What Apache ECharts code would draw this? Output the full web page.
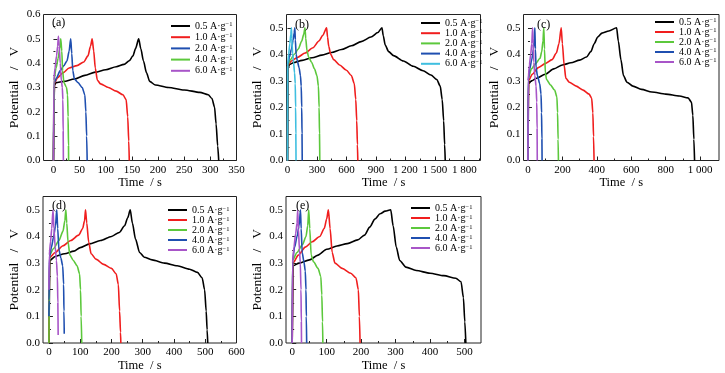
<!DOCTYPE html>
<html><head><meta charset="utf-8">
<script src="https://cdn.jsdelivr.net/npm/echarts@6/dist/echarts.min.js"></script>
<style>html,body{margin:0;padding:0;background:#fff}#c{width:725px;height:373px}</style>
</head><body><div id="c"></div>
<script>
// ---------- DATA ----------
const rates = ['0.5','1.0','2.0','4.0','6.0'];
// panel (a)
const a05 = [[0,0],[2,0.31],[5,0.32],[20,0.325],[40,0.335],[60,0.35],[80,0.363],[100,0.373],[120,0.385],[135,0.395],[145,0.41],[152,0.43],[157,0.46],[163,0.5],[167,0.46],[172,0.41],[178,0.36],[184,0.325],[195,0.31],[220,0.3],[250,0.29],[280,0.28],[296,0.27],[303,0.255],[308,0.22],[311,0.15],[314,0.06],[316,0]];
const a10 = [[0,0],[2,0.32],[8,0.34],[18,0.36],[30,0.38],[45,0.39],[58,0.405],[66,0.43],[71,0.47],[74,0.5],[77,0.45],[80,0.38],[84,0.33],[90,0.315],[105,0.3],[120,0.285],[133,0.27],[139,0.25],[142,0.18],[144,0.08],[145,0]];
const a20 = [[0,0],[1.5,0.32],[6,0.34],[13,0.37],[20,0.39],[26,0.41],[30,0.45],[33,0.5],[35,0.44],[37,0.37],[40,0.335],[47,0.32],[55,0.3],[60,0.27],[62,0.2],[63.5,0.1],[64.5,0]];
const a40 = [[0,0],[1,0.33],[5,0.38],[9,0.42],[12,0.46],[14,0.5],[16,0.45],[17.5,0.37],[20,0.32],[25,0.3],[27,0.27],[28,0.18],[28.8,0.06],[29,0]];
const a60 = [[0,0],[0.8,0.33],[3,0.38],[6,0.43],[8,0.47],[9.5,0.51],[11,0.47],[13,0.4],[15,0.33],[17,0.3],[18,0.25],[18.6,0.12],[19,0]];
// panel (b)
const b05 = [[0,0],[8,0.35],[20,0.362],[60,0.368],[150,0.377],[250,0.387],[350,0.397],[450,0.407],[550,0.418],[650,0.432],[750,0.448],[850,0.465],[920,0.482],[962,0.5],[975,0.47],[995,0.435],[1030,0.41],[1080,0.395],[1180,0.375],[1280,0.355],[1380,0.338],[1460,0.322],[1520,0.305],[1555,0.28],[1575,0.23],[1590,0.15],[1600,0.06],[1606,0]];
const b10 = [[0,0],[4,0.36],[40,0.375],[100,0.388],[180,0.405],[260,0.425],[320,0.45],[360,0.472],[398,0.5],[408,0.465],[420,0.43],[440,0.4],[470,0.38],[530,0.36],[600,0.34],[650,0.32],[680,0.29],[695,0.23],[705,0.15],[712,0.06],[716,0]];
const b20 = [[0,0],[3,0.36],[30,0.38],[70,0.4],[110,0.42],[145,0.45],[165,0.475],[178,0.5],[186,0.46],[198,0.415],[215,0.39],[245,0.37],[275,0.345],[300,0.32],[315,0.28],[322,0.2],[326,0.1],[329,0]];
const b40 = [[0,0],[2,0.36],[20,0.39],[40,0.42],[58,0.455],[68,0.48],[75,0.5],[80,0.455],[88,0.4],[100,0.375],[118,0.35],[132,0.32],[140,0.28],[145,0.2],[148,0.1],[150,0]];
const b60 = [[0,0],[1,0.36],[12,0.4],[24,0.44],[34,0.475],[40,0.5],[44,0.46],[52,0.405],[62,0.37],[72,0.33],[79,0.29],[83,0.2],[85,0.1],[87,0]];
// panel (c)
const c05 = [[0,0],[4,0.29],[20,0.3],[50,0.31],[100,0.325],[150,0.345],[200,0.36],[250,0.368],[300,0.378],[340,0.39],[365,0.41],[385,0.44],[405,0.465],[430,0.48],[470,0.488],[515,0.5],[525,0.45],[540,0.38],[555,0.32],[575,0.295],[610,0.28],[660,0.268],[720,0.258],[800,0.25],[880,0.243],[930,0.236],[950,0.22],[958,0.17],[964,0.08],[968,0]];
const c10 = [[0,0],[3,0.3],[25,0.325],[60,0.35],[100,0.365],[140,0.38],[165,0.405],[180,0.44],[193,0.5],[200,0.44],[210,0.36],[220,0.31],[240,0.295],[280,0.28],[320,0.265],[355,0.25],[370,0.235],[377,0.18],[381,0.09],[384,0]];
const c20 = [[0,0],[2,0.31],[20,0.345],[45,0.365],[70,0.385],[80,0.41],[87,0.45],[92,0.5],[96,0.42],[101,0.33],[108,0.305],[130,0.285],[155,0.265],[168,0.24],[172,0.18],[175,0.08],[177,0]];
const c40 = [[0,0],[1,0.3],[10,0.345],[22,0.38],[32,0.42],[37,0.46],[40,0.5],[43,0.42],[47,0.35],[55,0.32],[68,0.29],[76,0.25],[79,0.18],[81,0.08],[82,0]];
const c60 = [[0,0],[1,0.3],[8,0.36],[16,0.4],[22,0.44],[27,0.5],[30,0.44],[34,0.37],[40,0.32],[47,0.28],[51,0.22],[53,0.12],[54,0]];
// panel (d)
const d05 = [[0,0],[3,0.31],[20,0.325],[50,0.335],[80,0.345],[100,0.358],[130,0.372],[165,0.385],[200,0.4],[225,0.415],[242,0.44],[252,0.47],[260,0.5],[267,0.45],[277,0.39],[290,0.34],[305,0.322],[330,0.312],[370,0.3],[410,0.29],[450,0.277],[475,0.265],[490,0.245],[498,0.2],[503,0.12],[506,0.05],[508,0]];
const d10 = [[0,0],[2,0.32],[20,0.34],[45,0.365],[70,0.385],[95,0.405],[108,0.43],[114,0.46],[117,0.5],[121,0.45],[127,0.38],[135,0.335],[150,0.315],[175,0.295],[200,0.28],[215,0.26],[222,0.22],[226,0.12],[229,0.04],[230,0]];
const d20 = [[0,0],[2,0.33],[15,0.355],[32,0.385],[45,0.42],[51,0.46],[54,0.5],[57,0.45],[61,0.38],[67,0.33],[78,0.31],[90,0.29],[98,0.26],[101,0.2],[103,0.1],[105,0]];
const d40 = [[0,0.1],[0.5,0.16],[1.5,0.32],[8,0.36],[15,0.4],[21,0.44],[25,0.5],[28,0.43],[32,0.35],[38,0.32],[44,0.29],[47,0.22],[48,0.12],[49,0.035]];
const d60 = [[0,0.2],[1,0.33],[5,0.38],[9,0.43],[13,0.5],[16,0.43],[20,0.36],[24,0.31],[27,0.25],[28.5,0.15],[29.5,0.03]];
// panel (e)
const e05 = [[0,0],[3,0.29],[20,0.3],[50,0.312],[75,0.33],[100,0.352],[130,0.364],[160,0.373],[190,0.387],[210,0.405],[225,0.435],[240,0.465],[255,0.485],[270,0.495],[286,0.5],[293,0.44],[302,0.36],[312,0.31],[330,0.285],[360,0.272],[400,0.262],[440,0.253],[475,0.243],[490,0.23],[497,0.17],[501,0.08],[504,0]];
const e10 = [[0,0],[2,0.3],[18,0.33],[38,0.36],[58,0.38],[80,0.4],[93,0.43],[100,0.465],[105,0.5],[110,0.43],[116,0.34],[124,0.3],[145,0.28],[170,0.262],[185,0.245],[192,0.2],[195,0.1],[197,0]];
const e20 = [[0,0],[1,0.31],[14,0.34],[30,0.37],[40,0.4],[45,0.44],[48,0.5],[51,0.43],[55,0.33],[62,0.305],[75,0.28],[83,0.25],[86,0.18],[88,0.08],[89,0]];
const e40 = [[0,0],[1,0.31],[7,0.36],[14,0.4],[20,0.44],[24,0.5],[26,0.43],[29,0.34],[34,0.305],[38,0.27],[40,0.2],[41,0.1],[42,0]];
const e60 = [[0,0],[1,0.3],[5,0.36],[10,0.41],[14,0.45],[16,0.5],[18,0.43],[21,0.35],[23.5,0.3],[25.5,0.2],[26.5,0.08],[27,0]];

// tick values
const xTicksA = [0,50,100,150,200,250,300,350];
const xMinorA = [25,75,125,175,225,275,325];
const xTicksB = [0,300,600,900,1200,1500,1800];
const xMinorB = [150,450,750,1050,1350,1650,1950];
const xTicksC = [0,200,400,600,800,1000];
const xMinorC = [100,300,500,700,900];
const xTicksD = [0,100,200,300,400,500,600];
const xMinorD = [50,150,250,350,450,550];
const xTicksE = [0,100,200,300,400,500];
const xMinorE = [50,150,250,350,450];
const yTicks6 = [0,0.1,0.2,0.3,0.4,0.5,0.6];
const yTicks5 = [0,0.1,0.2,0.3,0.4,0.5];
const yMinor6 = [0.05,0.15,0.25,0.35,0.45,0.55];
const yMinor5 = [0.05,0.15,0.25,0.35,0.45];

// ---------- STYLE / LAYOUT ----------
const FONT = '"Liberation Serif", "Times New Roman", serif';
const K = '#000000', R = '#f01e1e', BL = '#1f4fb0', G = '#5cc83c', P = '#a855c8', CY = '#3fbfe0';
const panels = [
  {id:'a', series:[a05,a10,a20,a40,a60], colors:[K,R,BL,G,P], rect:{left:43.5,top:14.5,width:193,height:146},
   xmin:-19, xmax:350, xt:xTicksA, xm:xMinorA, ymax:0.6, yt:yTicks6, ym:yMinor6,
   leg:{left:171,top:21,lh:10,gap:1.2}, tag:{left:52,top:17}},
  {id:'b', series:[b05,b10,b20,b40,b60], colors:[K,R,G,BL,CY], rect:{left:286.5,top:14.5,width:194,height:146},
   xmin:-10, xmax:1965, xt:xTicksB, xm:xMinorB, ymax:0.55, yt:yTicks5, ym:yMinor5,
   leg:{left:421,top:18,lh:10,gap:0.2}, tag:{left:295,top:19}},
  {id:'c', series:[c05,c10,c20,c40,c60], colors:[K,R,G,BL,P], rect:{left:523.5,top:14.5,width:195.5,height:146},
   xmin:-26, xmax:1110, xt:xTicksC, xm:xMinorC, ymax:0.55, yt:yTicks5, ym:yMinor5,
   leg:{left:655,top:17,lh:10,gap:0}, tag:{left:537,top:19}},
  {id:'d', series:[d05,d10,d20,d40,d60], colors:[K,R,G,BL,P], rect:{left:43,top:196.5,width:193.5,height:146.5},
   xmin:-19, xmax:600, xt:xTicksD, xm:xMinorD, ymax:0.55, yt:yTicks5, ym:yMinor5,
   leg:{left:168,top:205,lh:8.5,gap:0}, tag:{left:52,top:200}},
  {id:'e', series:[e05,e10,e20,e40,e60], colors:[K,R,G,BL,P], rect:{left:286,top:196.5,width:195,height:146.5},
   xmin:-18, xmax:548, xt:xTicksE, xm:xMinorE, ymax:0.55, yt:yTicks5, ym:yMinor5,
   leg:{left:411,top:203,lh:9,gap:0}, tag:{left:296,top:200}}
];

function fmtX(v){ v = Math.round(v); return v >= 1000 ? String(v).replace(/(\d)(\d{3})$/, '$1 $2') : String(v); }
function fmtY(v){ return v.toFixed(1); }

const grid=[], xAxis=[], yAxis=[], series=[], legend=[], title=[];
panels.forEach((p, i) => {
  grid.push(Object.assign({show:true, borderColor:'#222', borderWidth:1, backgroundColor:'transparent'}, p.rect));
  grid.push(Object.assign({show:false}, p.rect));
  const gMain = 2*i, gMin = 2*i+1;
  xAxis.push({gridIndex:gMain, type:'value', min:p.xmin, max:p.xmax,
    axisLine:{show:false}, splitLine:{show:false},
    axisTick:{show:true, inside:true, length:4, customValues:p.xt, lineStyle:{color:'#222', width:1}},
    axisLabel:{customValues:p.xt, formatter:fmtX, fontFamily:FONT, fontSize:11, color:'#000', margin:4},
    name:'Time  / s', nameLocation:'middle', nameGap:16,
    nameTextStyle:{fontFamily:FONT, fontSize:12.5, color:'#000'}});
  xAxis.push({gridIndex:gMin, type:'value', min:p.xmin, max:p.xmax,
    axisLine:{show:false}, splitLine:{show:false}, axisLabel:{show:false},
    axisTick:{show:true, inside:true, length:2, customValues:p.xm, lineStyle:{color:'#222', width:1}}});
  yAxis.push({gridIndex:gMain, type:'value', min:0, max:p.ymax,
    axisLine:{show:false}, splitLine:{show:false},
    axisTick:{show:true, inside:true, length:4, customValues:p.yt, lineStyle:{color:'#222', width:1}},
    axisLabel:{customValues:p.yt, formatter:fmtY, fontFamily:FONT, fontSize:11, color:'#000', margin:3},
    name:'Potential \u2002/\u2002 V', nameLocation:'middle', nameGap:22, nameRotate:90,
    nameTextStyle:{fontFamily:FONT, fontSize:13.5, color:'#000'}});
  yAxis.push({gridIndex:gMin, type:'value', min:0, max:p.ymax,
    axisLine:{show:false}, splitLine:{show:false}, axisLabel:{show:false},
    axisTick:{show:true, inside:true, length:2, customValues:p.ym, lineStyle:{color:'#222', width:1}}});
  const names = [];
  p.series.forEach((d, j) => {
    const nm = p.id + '|' + rates[j];
    names.push(nm);
    series.push({type:'line', name:nm, xAxisIndex:gMain, yAxisIndex:gMain, data:d,
      showSymbol:false, symbol:'none', smooth:0.25, smoothMonotone:'x', clip:true,
      lineStyle:{color:p.colors[j], width:1.6}, itemStyle:{color:p.colors[j]}, animation:false});
  });
  legend.push({orient:'vertical', left:p.leg.left, top:p.leg.top, padding:0, itemGap:p.leg.gap,
    icon:'rect', itemWidth:19, itemHeight:2, selectedMode:false, data:names,
    formatter: n => n.split('|')[1] + ' A·g{sup|−1}',
    textStyle:{fontFamily:FONT, fontSize:10, color:'#000', lineHeight:p.leg.lh,
      rich:{sup:{fontFamily:FONT, fontSize:6.5, lineHeight:p.leg.lh, verticalAlign:'top'}}}});
  title.push({text:'('+p.id+')', left:p.tag.left, top:p.tag.top, padding:0,
    textStyle:{fontFamily:FONT, fontSize:12, fontWeight:'normal', color:'#000'}});
});

const chart = echarts.init(document.getElementById('c'), null, {renderer:'canvas'});
chart.setOption({animation:false, backgroundColor:'#fff', title, grid, xAxis, yAxis, legend, series});
</script>
</body></html>
